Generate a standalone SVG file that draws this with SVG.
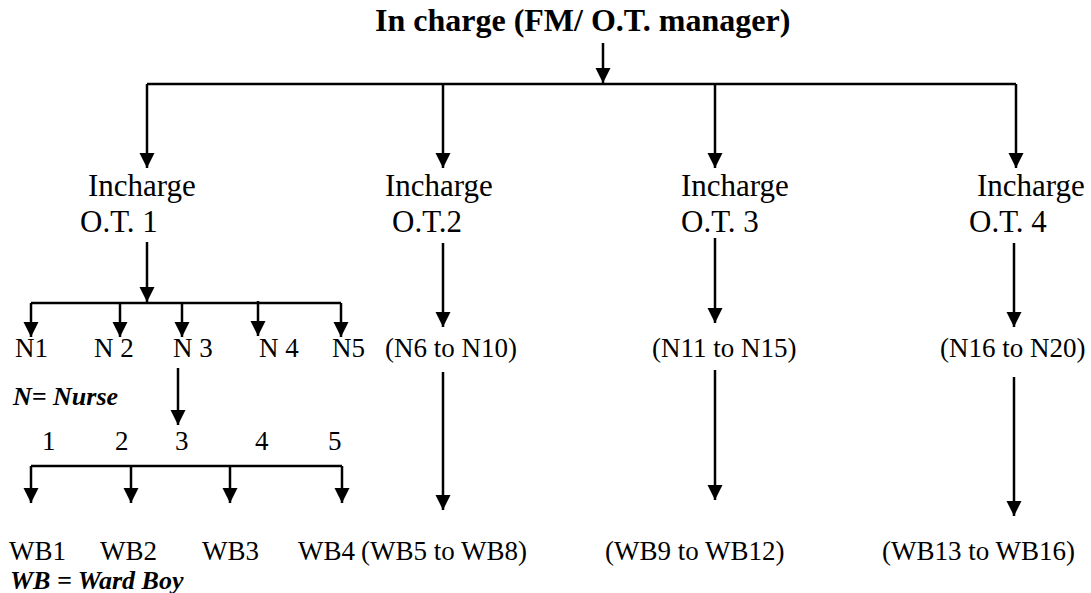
<svg xmlns="http://www.w3.org/2000/svg" width="1091" height="593" viewBox="0 0 1091 593">
<defs>
<marker id="ah" markerUnits="userSpaceOnUse" markerWidth="16" markerHeight="16" refX="15" refY="7.5" orient="auto">
<path d="M0,0 L15,7.5 L0,15 Z" fill="#000"/>
</marker>
<style>
.t{font-family:"Liberation Serif","Times New Roman",serif;fill:#000}
.big{font-size:31px}
.mid{font-size:27px}
.bi{font-size:26px;font-weight:bold;font-style:italic}
.ttl{font-size:32px;font-weight:bold}
.c line,.c path{stroke:#000;stroke-width:2.5;fill:none}
.a{marker-end:url(#ah)}
</style>
</defs>
<rect width="1091" height="593" fill="#fff"/>
<g class="c" id="connectors">
<line class="a" x1="603" y1="43" x2="603" y2="83"/>
<line x1="147" y1="84" x2="1016" y2="84"/>
<line class="a" x1="147" y1="84" x2="147" y2="168"/>
<line class="a" x1="443" y1="84" x2="443" y2="168"/>
<line class="a" x1="715" y1="84" x2="715" y2="168"/>
<line class="a" x1="1016" y1="84" x2="1016" y2="168"/>
<line class="a" x1="147" y1="242" x2="147" y2="302"/>
<line x1="31" y1="303" x2="341" y2="303"/>
<line class="a" x1="31" y1="303" x2="31" y2="337"/>
<line class="a" x1="120" y1="303" x2="120" y2="337"/>
<line class="a" x1="182" y1="303" x2="182" y2="337"/>
<line class="a" x1="258" y1="301" x2="258" y2="336"/>
<line class="a" x1="341" y1="303" x2="341" y2="337"/>
<line class="a" x1="178" y1="368" x2="178" y2="425"/>
<line x1="31" y1="466" x2="342" y2="466"/>
<line class="a" x1="31" y1="466" x2="31" y2="503"/>
<line class="a" x1="131" y1="466" x2="131" y2="503"/>
<line class="a" x1="230" y1="466" x2="230" y2="503"/>
<line class="a" x1="342" y1="466" x2="342" y2="503"/>
<line class="a" x1="443" y1="243" x2="443" y2="327"/>
<line class="a" x1="715" y1="238" x2="715" y2="323"/>
<line class="a" x1="1014" y1="243" x2="1014" y2="327"/>
<line class="a" x1="443" y1="372" x2="443" y2="510"/>
<line class="a" x1="715" y1="370" x2="715" y2="500"/>
<line class="a" x1="1014" y1="377" x2="1014" y2="516"/>
</g>
<g id="root"><text class="t ttl" x="375" y="31">In charge (FM/ O.T. manager)</text></g>
<g id="ot1"><text class="t big" x="88" y="196">Incharge</text><text class="t big" x="80" y="232">O.T. 1</text></g>
<g id="ot2"><text class="t big" x="385" y="196">Incharge</text><text class="t big" x="392" y="232">O.T.2</text></g>
<g id="ot3"><text class="t big" x="681" y="196">Incharge</text><text class="t big" x="681" y="232">O.T. 3</text></g>
<g id="ot4"><text class="t big" x="977" y="196">Incharge</text><text class="t big" x="969" y="232">O.T. 4</text></g>
<g id="n1"><text class="t mid" x="15" y="357">N1</text></g>
<g id="n2"><text class="t mid" x="94" y="357">N 2</text></g>
<g id="n3"><text class="t mid" x="173" y="357">N 3</text></g>
<g id="n4"><text class="t mid" x="259" y="357">N 4</text></g>
<g id="n5"><text class="t mid" x="332" y="357">N5</text></g>
<g id="n6-10"><text class="t mid" x="385" y="357">(N6 to N10)</text></g>
<g id="n11-15"><text class="t mid" x="652" y="357">(N11 to N15)</text></g>
<g id="n16-20"><text class="t mid" x="940" y="357">(N16 to N20)</text></g>
<g id="legend-n"><text class="t bi" x="13" y="405">N= Nurse</text></g>
<g id="nums">
<text class="t mid" x="42" y="450">1</text>
<text class="t mid" x="115" y="450">2</text>
<text class="t mid" x="175" y="450">3</text>
<text class="t mid" x="255" y="450">4</text>
<text class="t mid" x="328" y="450">5</text>
</g>
<g id="wb1"><text class="t mid" x="9" y="560">WB1</text></g>
<g id="wb2"><text class="t mid" x="100" y="560">WB2</text></g>
<g id="wb3"><text class="t mid" x="202" y="560">WB3</text></g>
<g id="wb4"><text class="t mid" x="298" y="560">WB4</text></g>
<g id="wb5-8"><text class="t mid" x="361" y="560">(WB5 to WB8)</text></g>
<g id="wb9-12"><text class="t mid" x="605" y="560">(WB9 to WB12)</text></g>
<g id="wb13-16"><text class="t mid" x="882" y="560">(WB13 to WB16)</text></g>
<g id="legend-wb"><text class="t bi" x="10" y="589">WB = Ward Boy</text></g>
</svg>
